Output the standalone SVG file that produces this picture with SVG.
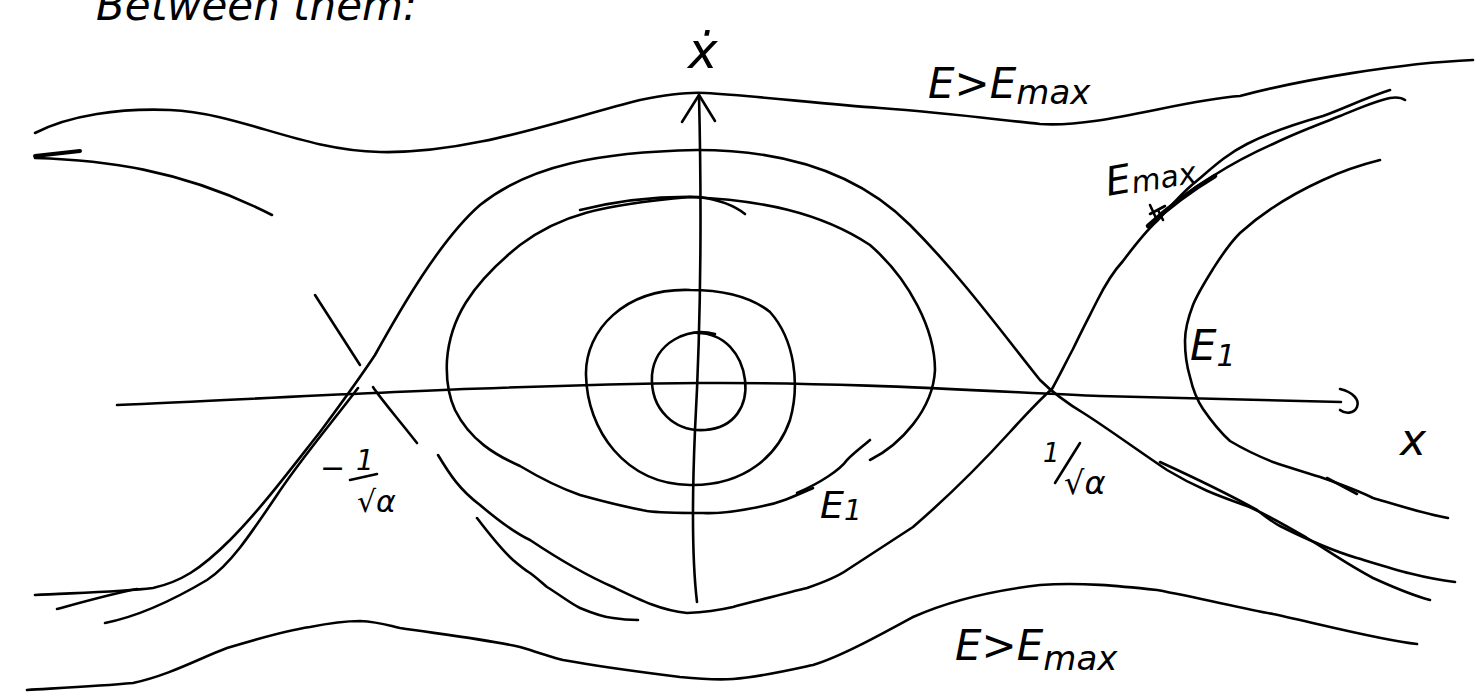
<svg xmlns="http://www.w3.org/2000/svg" width="1477" height="693" viewBox="0 0 1477 693">
<style>
.s{fill:none;stroke:#000;stroke-width:2.6;stroke-linecap:round;stroke-linejoin:round}
.t{font-family:"DejaVu Sans","Liberation Sans",sans-serif;fill:#000;font-style:oblique}
</style>
<rect width="1477" height="693" fill="#fff"/>
<text class="t" x="96" y="20" font-size="42">Between them:</text>
<g id="axes" class="s">
<path id="x-axis" d="M117,405 C300,397 500,385 700,383 C850,382 1000,392 1100,396 C1200,399 1300,401 1341,402"/>
<path id="x-arrow" d="M1340,389 C1353,392 1360,400 1357,407 C1354,414 1345,414 1340,410"/>
<path id="y-axis" d="M699,95 C702,220 700,340 695,430 C692,500 692,560 697,602"/>
<path id="y-arrow" d="M682,122 L699,95 L715,121"/>
</g>
<g id="connectors" class="s">
<path id="top-outer" d="M35,133 C70,115 120,108 170,110 C240,113 300,150 380,152 C470,154 560,120 640,100 C670,94 690,92 705,93 C760,96 820,104 880,108 C950,113 1000,120 1040,124 C1100,128 1180,100 1240,96 C1300,80 1400,63 1473,60"/>
<path id="bottom-outer" d="M27,690 C60,688 100,686 133,683 C170,675 200,658 227,648 C260,638 290,630 310,627 C330,623 345,621 360,621 C380,622 390,626 400,628 C440,634 490,640 520,647 C540,653 555,658 563,660 C590,665 640,672 680,677 C700,679 720,680 733,679 C760,677 790,670 813,665 C840,657 880,635 913,617 C940,605 980,592 1040,585 C1080,582 1120,586 1157,590 C1200,598 1240,608 1273,614 C1320,624 1380,640 1417,644"/>
<path id="sep-upper" d="M35,595 C70,593 120,592 153,588 C180,582 200,570 230,540 C260,510 290,470 320,432 C340,405 355,385 375,355 C400,310 440,240 480,205 C530,165 600,152 697,150 C790,150 860,175 910,225 C960,275 1000,330 1040,380 C1055,395 1070,405 1085,414 C1110,430 1140,452 1167,470 C1200,490 1225,498 1247,506 C1270,516 1290,528 1307,538 C1330,552 1350,566 1373,578 C1395,588 1415,596 1430,600"/>
<path id="sep-upper-2" d="M105,623 C125,619 160,608 207,580 C230,565 250,535 277,495 C300,460 330,425 358,388"/>
<path id="sep-ul-stroke" d="M315,295 L360,365"/>
<path id="sep-ul" d="M35,158 C100,160 180,168 272,215"/>
<path id="sep-ul-mark" d="M35,156 L80,151" stroke-width="4"/>
<path id="sep-left-short" d="M57,609 C90,600 115,593 137,589"/>
<path id="sep-lower-a" d="M373,387 C380,398 395,415 417,443"/>
<path id="sep-lower" d="M438,455 C450,475 460,490 480,505 C500,522 515,533 530,540 C560,560 590,577 613,587 C640,600 660,610 687,613 C710,612 720,610 733,607 C760,600 790,592 807,588 C830,580 840,575 847,570 C870,555 890,542 913,527 C950,495 980,465 1010,432 C1030,410 1045,395 1052,389 C1060,375 1066,362 1073,349 C1082,330 1090,315 1097,301 C1105,285 1112,273 1123,261 C1135,245 1145,232 1157,221 C1170,207 1180,195 1193,184 C1210,170 1225,155 1247,144 C1270,132 1295,124 1323,116 C1345,108 1365,98 1390,90"/>
<path id="sep-ur-2" d="M1150,225 C1170,205 1190,190 1213,176 C1235,162 1255,152 1273,144 C1295,133 1320,124 1340,116 C1360,108 1375,101 1390,98 C1396,97 1402,98 1405,100"/>
<path id="emax-bold" d="M1148,226 C1170,206 1195,188 1215,176" stroke-width="4.5"/>
<path id="sep-lr-2" d="M1160,462 C1195,478 1230,495 1257,510 C1265,516 1272,522 1280,526 C1300,536 1330,550 1357,558 C1390,568 1420,578 1455,582"/>
<path id="right-well" d="M1380,160 C1360,165 1340,172 1323,180 C1290,195 1260,215 1240,233 C1228,245 1220,258 1213,269 C1203,285 1197,295 1193,305 C1188,318 1185,330 1185,341 C1185,355 1187,367 1190,377 C1193,390 1197,400 1203,409 C1212,422 1220,432 1230,441 C1245,450 1258,456 1273,462 C1290,468 1308,473 1323,478 C1340,484 1357,490 1373,498 C1400,506 1425,514 1448,518"/>
<path id="right-well-mark" d="M1327,478 L1357,494"/>
<path id="left-lower-arc" d="M477,518 C490,535 502,550 513,560 C520,566 525,570 530,573 C537,578 542,583 547,587 C560,595 570,603 580,608 C592,613 602,617 613,618 C625,620 632,620 638,620"/>
<path id="e1-orbit" d="M813,488 C795,496 780,503 763,506 C740,511 720,514 703,513 C680,513 660,513 647,511 C620,506 598,500 580,495 C560,488 540,478 520,466 C495,455 470,440 455,410 C448,395 446,378 447,360 C450,320 470,285 520,245 C560,215 600,205 690,197 C760,200 820,212 870,245 C910,280 935,330 935,370 C933,410 900,445 870,460"/>
<path id="e1-orbit-2" d="M797,493 C820,483 840,470 847,460 C855,452 862,447 870,440"/>
<path id="e1-top-2" d="M580,210 C620,200 660,196 700,197 C720,200 735,206 745,214"/>
<path id="mid-orbit" d="M690,290 C625,288 585,330 586,375 C587,430 625,484 690,485 C745,486 778,455 790,420 C800,385 795,340 770,312 C750,296 720,290 690,290"/>
<path id="inner-orbit" d="M715,334 C688,327 655,342 652,375 C650,410 675,432 705,430 C735,428 748,405 745,380 C742,355 725,333 697,333"/>
<path id="emax-mark" d="M1150,205 L1156,218 M1150,214 L1165,206 M1158,210 L1163,220"/>
</g>
<g id="labels">
<text class="t" x="688" y="68" font-size="50">ẋ</text>
<text class="t" x="928" y="98" font-size="42">E&gt;E<tspan font-size="34" dy="6">max</tspan></text>
<text class="t" x="955" y="660" font-size="42">E&gt;E<tspan font-size="34" dy="10">max</tspan></text>
<text class="t" x="1108" y="196" font-size="40" transform="rotate(-10 1108 196)">E<tspan font-size="30" dy="2">max</tspan></text>
<text class="t" x="1190" y="360" font-size="42">E<tspan font-size="30" dy="6">1</tspan></text>
<text class="t" x="820" y="518" font-size="38">E<tspan font-size="28" dy="2">1</tspan></text>
<text class="t" x="1400" y="455" font-size="44">x</text>
<text class="t" x="320" y="478" font-size="30">−</text>
<text class="t" x="356" y="470" font-size="28">1</text>
<path class="s" d="M350,480 L377,474"/>
<text class="t" x="357" y="512" font-size="30">√α</text>
<text class="t" x="1043" y="462" font-size="26">1</text>
<path class="s" d="M1080,443 L1055,483"/>
<text class="t" x="1064" y="494" font-size="32">√α</text>
</g>
</svg>
